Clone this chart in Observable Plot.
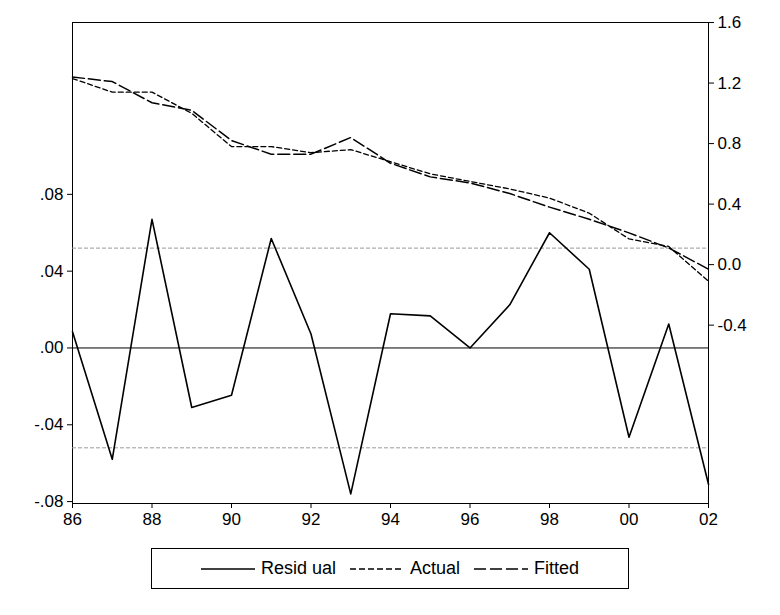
<!DOCTYPE html>
<html><head><meta charset="utf-8">
<script src="https://cdn.jsdelivr.net/npm/d3@7"></script>
<script src="https://cdn.jsdelivr.net/npm/@observablehq/plot@0.6"></script>
<style>
body{margin:0;background:#fff;font-family:"Liberation Sans",Arial,sans-serif;}
#legend{margin:0 auto;width:478px;height:41px;border:1px solid #000;display:flex;justify-content:center;align-items:center;gap:6px;font-size:18px;box-sizing:border-box}
#legend span{display:flex;align-items:center;gap:6px;margin:0 4px}
</style></head><body>
<div id="chart"></div>
<div id="legend">
<span><svg width="54" height="4"><line x1="0" x2="54" y1="2" y2="2" stroke="#000" stroke-width="1.6"/></svg>Resid ual</span>
<span><svg width="54" height="4"><line x1="0" x2="54" y1="2" y2="2" stroke="#000" stroke-width="1.4" stroke-dasharray="6,3"/></svg>Actual</span>
<span><svg width="54" height="4"><line x1="0" x2="54" y1="2" y2="2" stroke="#000" stroke-width="1.6" stroke-dasharray="12,4"/></svg>Fitted</span>
</div>
<script>
const years = d3.range(1986, 2003);
const residual = [0.0084,-0.058,0.067,-0.031,-0.0246,0.057,0.0073,-0.076,0.0178,0.0167,0.0,0.0225,0.060,0.041,-0.0465,0.0125,-0.071];
const actual = [1.23,1.14,1.14,1.0,0.78,0.78,0.74,0.76,0.68,0.60,0.55,0.50,0.44,0.34,0.17,0.12,-0.11];
const fitted = [1.24,1.21,1.07,1.02,0.82,0.73,0.73,0.84,0.67,0.58,0.54,0.47,0.38,0.30,0.21,0.11,-0.03];
const stdBand = 0.052;
const leftTicks = [-0.08,-0.04,0,0.04,0.08];
const rightTicks = [-0.4,0,0.4,0.8,1.2,1.6];

// right scale mapped into left units
const toLeft = v => 0.0434 + v * 0.0788;
const rows = years.map((y, i) => ({year: y, res: residual[i], act: toLeft(actual[i]), fit: toLeft(fitted[i])}));
const fmtL = d => d3.format(".2f")(d).replace("−", "-").replace("0.", ".");
const fmtR = d => d3.format(".1f")((d - 0.0434) / 0.0788).replace("−", "-");

const chart = Plot.plot({
  width: 780, height: 548,
  marginTop: 22, marginBottom: 45, marginLeft: 72, marginRight: 72,
  style: {fontSize: "17px", fontFamily: "Liberation Sans, Arial, sans-serif", color: "#000"},
  x: {domain: [1986, 2002], label: null},
  y: {domain: [-0.081, 0.1695], label: null},
  marks: [
    Plot.frame({stroke: "#000"}),
    Plot.axisX({ticks: d3.range(1986, 2003, 2), tickFormat: d => String(d % 100).padStart(2, "0"), tickSize: 5, label: null, fontSize: 17}),
    Plot.axisY(leftTicks, {anchor: "left", tickFormat: fmtL, tickSize: 5, label: null, fontSize: 17}),
    Plot.axisY(rightTicks.map(toLeft), {anchor: "right", tickFormat: fmtR, tickSize: 5, label: null, fontSize: 17}),
    Plot.ruleY([0], {stroke: "#000", strokeWidth: 1}),
    Plot.ruleY([stdBand, -stdBand], {stroke: "#999", strokeDasharray: "4,2", strokeWidth: 1}),
    Plot.line(rows, {x: "year", y: "act", stroke: "#000", strokeWidth: 1.3, strokeDasharray: "5,3"}),
    Plot.line(rows, {x: "year", y: "fit", stroke: "#000", strokeWidth: 1.5, strokeDasharray: "12,4"}),
    Plot.line(rows, {x: "year", y: "res", stroke: "#000", strokeWidth: 1.6})
  ]
});
d3.select("#chart").append(() => chart);
</script>
</body></html>
